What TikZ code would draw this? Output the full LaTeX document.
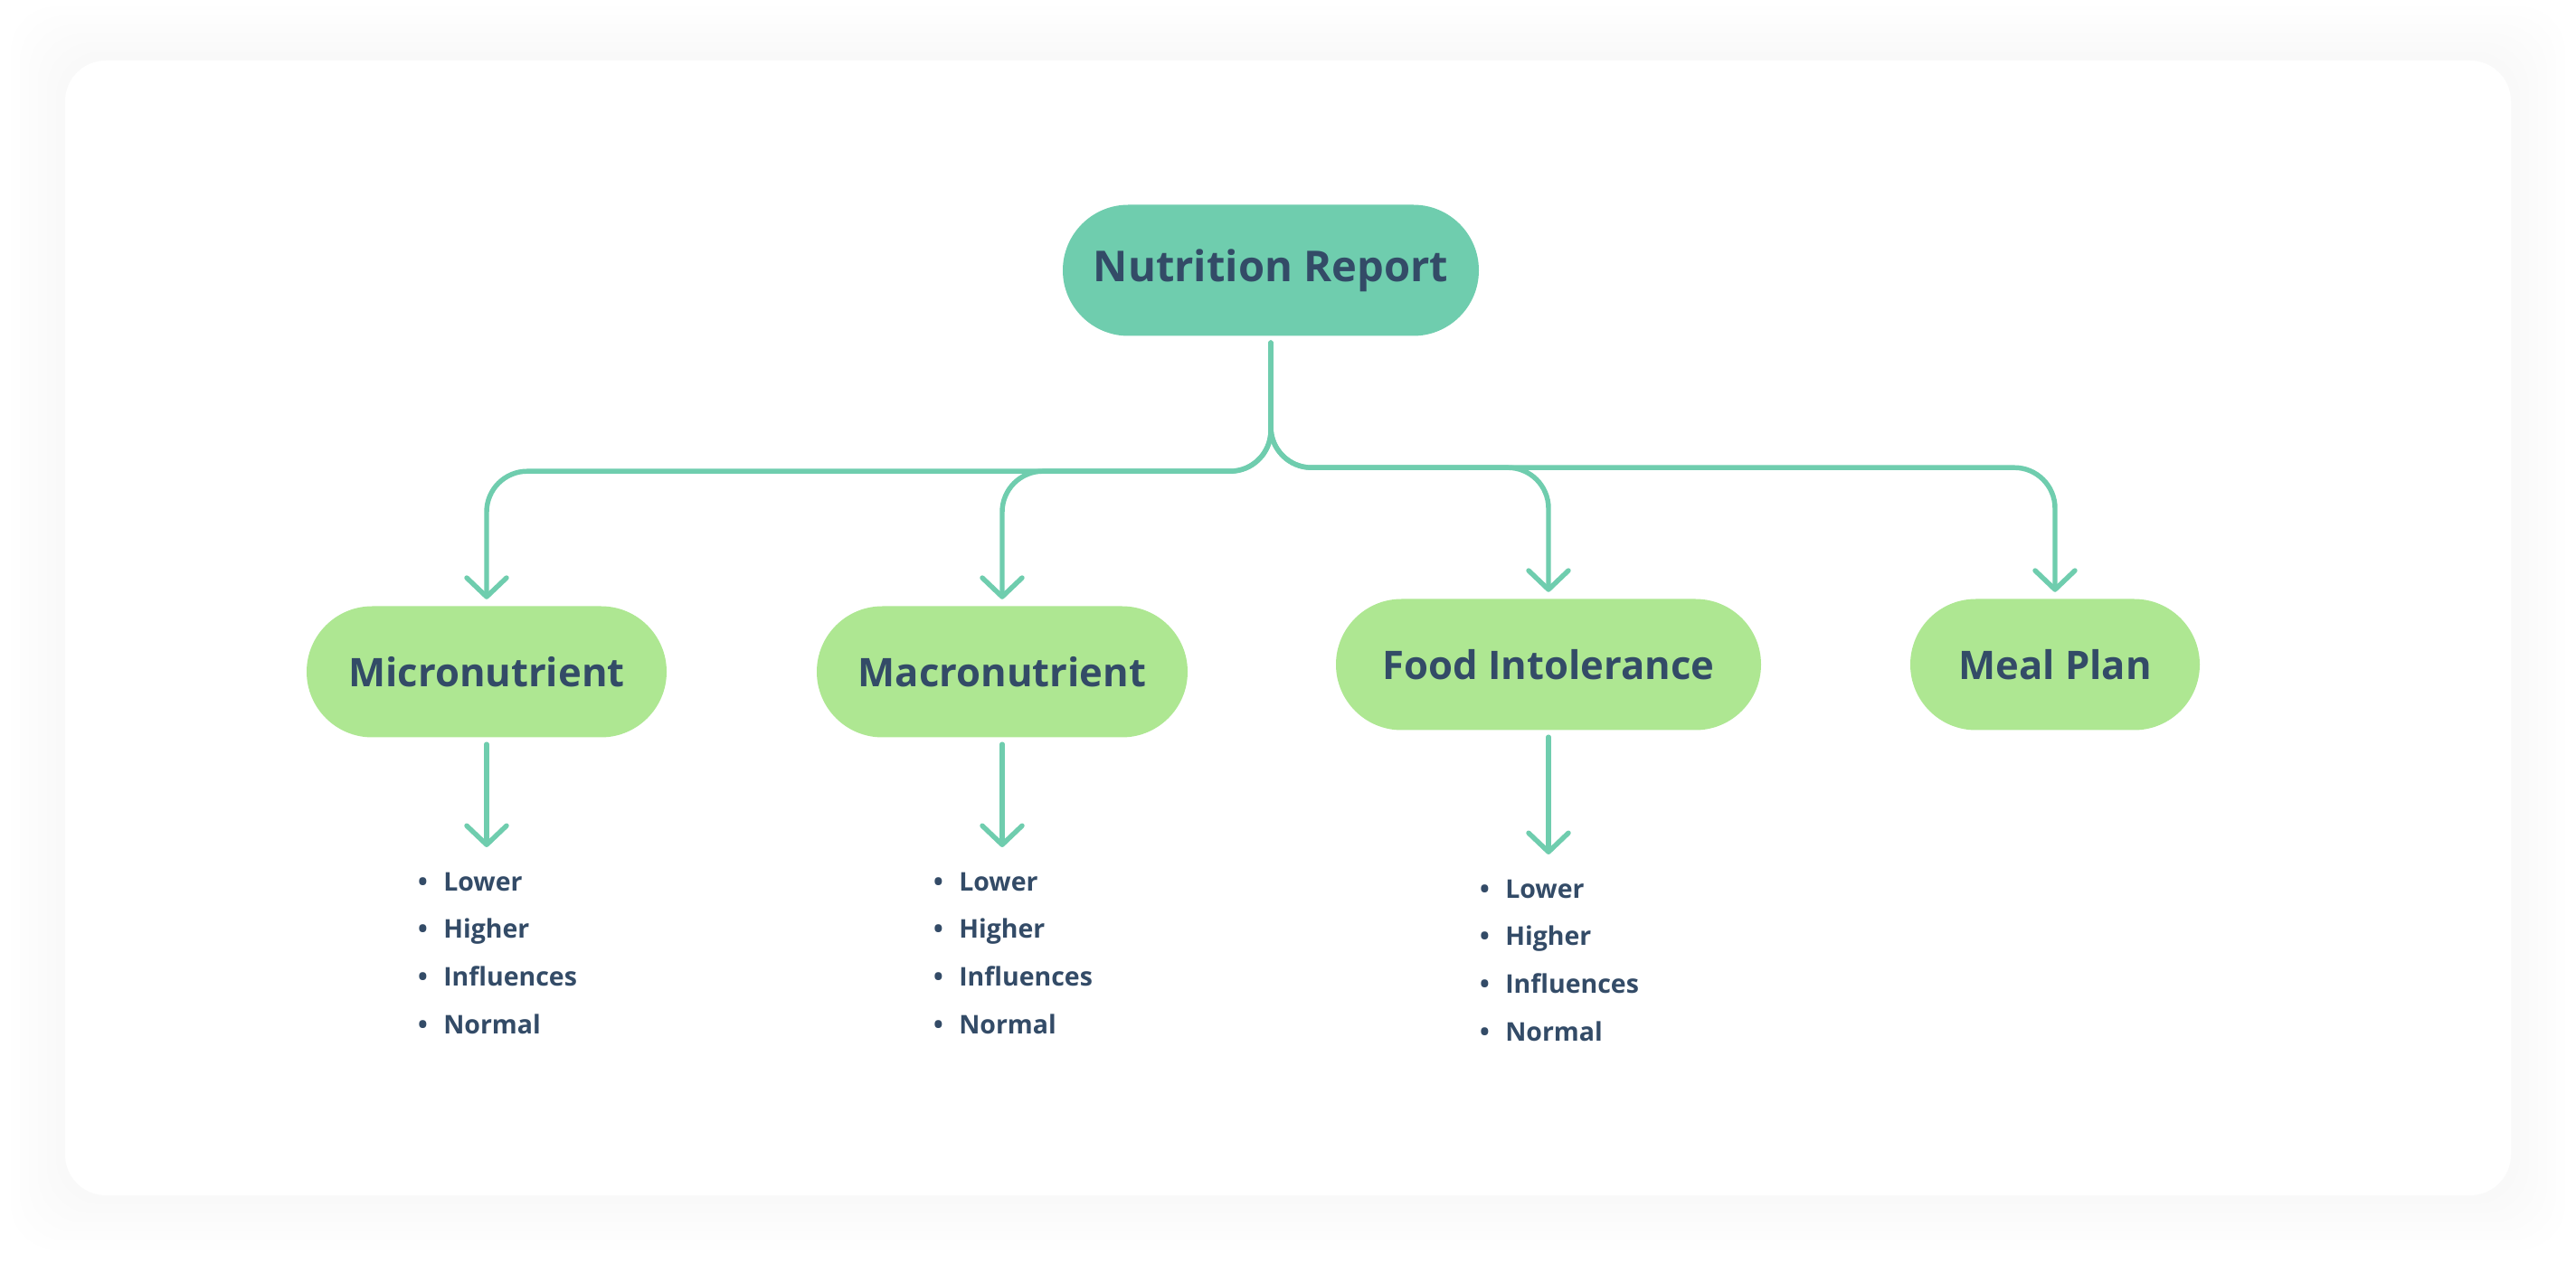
\documentclass[tikz,border=0pt]{standalone}
\usepackage{fontspec}
\setmainfont{Open Sans}
\usepackage{xcolor}
\usepackage{tikz}
\usetikzlibrary{arrows.meta,positioning}
\definecolor{rootgreen}{HTML}{6FCDAE}
\definecolor{leafgreen}{HTML}{AEE792}
\definecolor{inkblue}{HTML}{334B67}
\newcommand{\bitem}[1]{\textbullet\hspace{5pt}#1}

\begin{document}
\begin{tikzpicture}[
  pill/.style={rectangle, rounded corners=0.725cm, minimum height=1.45cm, inner xsep=0pt, text=inkblue, font=\bfseries\fontsize{12.4}{15}\selectfont},
  rootpill/.style={pill, fill=rootgreen, font=\bfseries\fontsize{13.4}{16}\selectfont},
  leafpill/.style={pill, fill=leafgreen},
  link/.style={draw=rootgreen, line width=1.55pt, line cap=round, rounded corners=0.45cm, -{Straight Barb[length=0.21cm,width=0.44cm,round]}},
  levels/.style={anchor=north, inner sep=0pt, align=left, text=inkblue, font=\bfseries\fontsize{8.1}{15.0}\selectfont}
]
  \useasboundingbox (0,0) rectangle (28.48,-13.98);
  % card with a faint halo
  \foreach \s in {0.1,0.2,...,0.6}
    \fill[black, opacity=0.0025, rounded corners=0.5cm] (0.72-\s,-0.67+\s) rectangle (27.76+\s,-13.22-\s);
  \fill[white, rounded corners=0.45cm] (0.72,-0.67) rectangle (27.76,-13.22);

  \node[rootpill, minimum width=4.60cm] (root) at (14.05,-2.99) {Nutrition Report};
  \node[leafpill, minimum width=3.98cm] (micro) at (5.38,-7.43) {Micronutrient};
  \node[leafpill, minimum width=4.10cm] (macro) at (11.08,-7.43) {Macronutrient};
  \node[leafpill, minimum width=4.70cm] (food) at (17.12,-7.35) {Food Intolerance};
  \node[leafpill, minimum width=3.20cm] (meal) at (22.72,-7.35) {Meal Plan};

  \node[levels] (microlist) at (5.50,-9.64) {\bitem{Lower}\\\bitem{Higher}\\\bitem{Influences}\\\bitem{Normal}};
  \node[levels] (macrolist) at (11.20,-9.64) {\bitem{Lower}\\\bitem{Higher}\\\bitem{Influences}\\\bitem{Normal}};
  \node[levels] (foodlist) at (17.24,-9.72) {\bitem{Lower}\\\bitem{Higher}\\\bitem{Influences}\\\bitem{Normal}};

  \draw[link, shorten <=0.07cm, shorten >=0.07cm] (root.south) -- ++(0,-1.49) -| (micro.north);
  \draw[link, shorten <=0.07cm, shorten >=0.07cm] (root.south) -- ++(0,-1.49) -| (macro.north);
  \draw[link, shorten <=0.07cm, shorten >=0.07cm] (root.south) -- ++(0,-1.45) -| (food.north);
  \draw[link, shorten <=0.07cm, shorten >=0.07cm] (root.south) -- ++(0,-1.45) -| (meal.north);

  \draw[link, shorten <=0.07cm, shorten >=0.27cm] (micro.south) -- (micro.south |- microlist.north);
  \draw[link, shorten <=0.07cm, shorten >=0.27cm] (macro.south) -- (macro.south |- macrolist.north);
  \draw[link, shorten <=0.07cm, shorten >=0.27cm] (food.south) -- (food.south |- foodlist.north);
\end{tikzpicture}
\end{document}
